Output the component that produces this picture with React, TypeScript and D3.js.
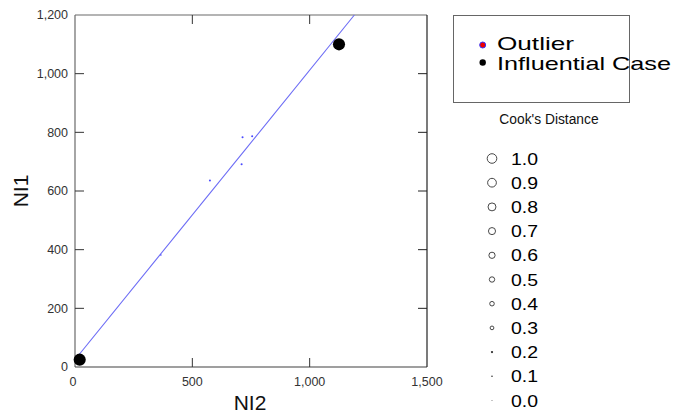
import React from "react";
import * as d3 from "d3";

const ni2 = [20, 366, 575, 710, 714, 755, 1125];
const ni1 = [25, 382, 636, 691, 783, 787, 1100];
const cooks = [1.3, 0.05, 0.1, 0.1, 0.1, 0.1, 1.3];
const influential = [true, false, false, false, false, false, true];

const xTicks = [0, 500, 1000, 1500];
const yTicks = [0, 200, 400, 600, 800, 1000, 1200];
const fitIntercept = 25;
const fitSlope = 0.987;
const fitRange = [10, 1200];

const legendItems = ["Outlier", "Influential Case"];
const cookLevels = [1.0, 0.9, 0.8, 0.7, 0.6, 0.5, 0.4, 0.3, 0.2, 0.1, 0.0];

const W = 683;
const H = 416;
const fmt = d3.format(",");

export default function App() {
  const x = d3.scaleLinear().domain([0, 1500]).range([75, 427]);
  const y = d3.scaleLinear().domain([0, 1200]).range([367, 15]);
  const r = d3.scaleLinear().domain([0, 1]).range([0.6, 4.8]);
  const ly = d3.scaleLinear().domain([0, cookLevels.length - 1]).range([158.5, 400.5]);

  const line = d3
    .line<number>()
    .x((d) => x(d))
    .y((d) => y(fitIntercept + fitSlope * d));
  const fitEnd = Math.min(fitRange[1], (1200 - fitIntercept) / fitSlope);

  const font = "Arial, 'Liberation Sans', sans-serif";
  const tickLen = 9;

  return (
    <svg
      width={W}
      height={H}
      style={{ position: "absolute", left: 0, top: 0, background: "#fff" }}
      fontFamily={font}
    >
      {/* frame */}
      <line x1={x(0)} x2={x(1500)} y1={y(1200)} y2={y(1200)} stroke="#6a6a6a" strokeWidth={1.2} />
      <line x1={x(0)} x2={x(0)} y1={y(0)} y2={y(1200)} stroke="#6a6a6a" strokeWidth={1.2} />
      <line x1={x(0)} x2={x(1500)} y1={y(0)} y2={y(0)} stroke="#404040" strokeWidth={1.2} />
      <line x1={x(1500)} x2={x(1500)} y1={y(0)} y2={y(1200)} stroke="#222" strokeWidth={1.2} />

      {/* y ticks */}
      {yTicks.map((t) => (
        <g key={"y" + t}>
          {t > 0 && t < 1200 && (
            <>
              <line x1={x(0)} x2={x(0) + tickLen} y1={y(t)} y2={y(t)} stroke="#333" />
              <line x1={x(1500)} x2={x(1500) - tickLen} y1={y(t)} y2={y(t)} stroke="#222" />
            </>
          )}
          <text x={68} y={y(t)} dy="0.35em" textAnchor="end" fontSize={12.5} fill="#333">
            {fmt(t)}
          </text>
        </g>
      ))}

      {/* x ticks */}
      {xTicks.map((t) => (
        <g key={"x" + t}>
          {t > 0 && t < 1500 && (
            <>
              <line x1={x(t)} x2={x(t)} y1={y(0)} y2={y(0) - tickLen} stroke="#333" />
              <line x1={x(t)} x2={x(t)} y1={y(1200)} y2={y(1200) + tickLen} stroke="#333" />
            </>
          )}
          <text x={x(t) - (t === 0 ? 2 : 0)} y={386} textAnchor="middle" fontSize={12.5} fill="#333">
            {fmt(t)}
          </text>
        </g>
      ))}

      {/* axis titles */}
      <text x={250} y={410} textAnchor="middle" fontSize={21} fill="#111">
        NI2
      </text>
      <text transform="translate(28,191) rotate(-90)" textAnchor="middle" fontSize={21} fill="#111">
        NI1
      </text>

      {/* regression line */}
      <path d={line([fitRange[0], fitEnd]) || ""} stroke="#6b6bf5" strokeWidth={1.1} fill="none" />

      {/* points */}
      {ni2.map((v, i) => (
        <circle
          key={"p" + i}
          cx={x(v)}
          cy={y(ni1[i])}
          r={r(cooks[i])}
          fill={influential[i] ? "#000" : "#4a4aff"}
        />
      ))}

      {/* legend box */}
      <rect x={453.5} y={15.5} width={176} height={87} fill="#fff" stroke="#666" />
      <circle cx={482.7} cy={45} r={3} fill="#e00" stroke="#33f" strokeWidth={1} />
      <circle cx={482.7} cy={62.5} r={3.2} fill="#000" />
      <text x={497} y={49.5} fontSize={18.5} fill="#000" textLength={77} lengthAdjust="spacingAndGlyphs">
        {legendItems[0]}
      </text>
      <text x={497} y={70} fontSize={19} fill="#000" textLength={174} lengthAdjust="spacingAndGlyphs">
        {legendItems[1]}
      </text>

      <text x={549} y={124} textAnchor="middle" fontSize={13.8} fill="#111">
        Cook's Distance
      </text>

      {cookLevels.map((c, i) => (
        <g key={"c" + i}>
          {c > 0.25 ? (
            <circle cx={492} cy={ly(i)} r={r(c)} fill="#fff" stroke="#333" strokeWidth={0.9} />
          ) : (
            <circle cx={492} cy={ly(i)} r={r(c) * 0.8} fill="#333" />
          )}
          <text x={511} y={ly(i)} dy="0.36em" fontSize={17} fill="#000" textLength={27} lengthAdjust="spacingAndGlyphs">
            {c.toFixed(1)}
          </text>
        </g>
      ))}
    </svg>
  );
}
